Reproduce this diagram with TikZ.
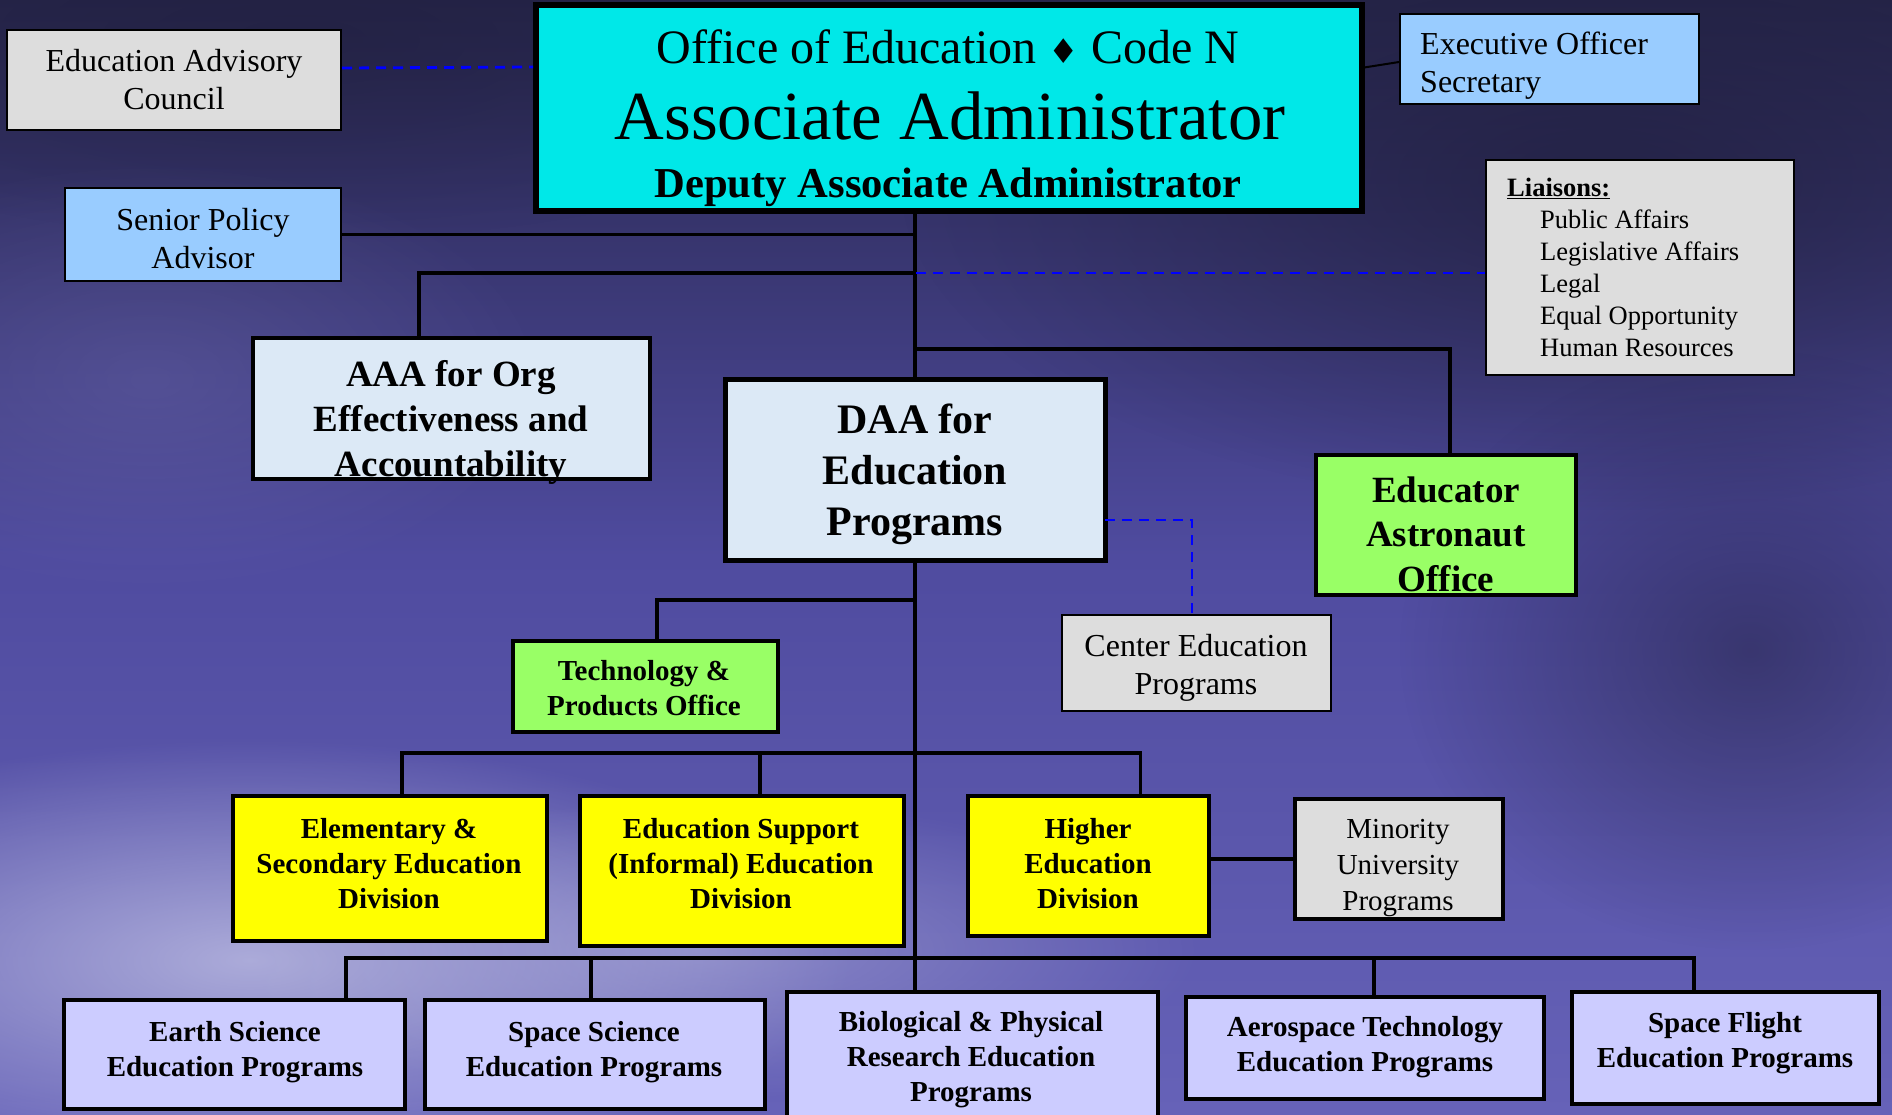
\documentclass[tikz,border=0pt]{standalone}
\usepackage{fontspec}
\setmainfont{Liberation Serif}
\newfontfamily\symfont{DejaVu Sans}
\usetikzlibrary{calc,fadings}
\tikzfading[name=softblob, inner color=transparent!0, outer color=transparent!100]
\definecolor{bgtop}{HTML}{26254A}
\definecolor{bgmid}{HTML}{4F4B9F}
\definecolor{bgbot}{HTML}{6662B8}
\definecolor{cloud}{HTML}{B4B4DE}
\definecolor{darkblob}{HTML}{1F1E3C}
\definecolor{cyanbox}{HTML}{00E8E8}
\definecolor{graybox}{HTML}{DDDDDD}
\definecolor{bluebox}{HTML}{99CCFF}
\definecolor{greenbox}{HTML}{99FF66}
\definecolor{yellowbox}{HTML}{FFFF00}
\definecolor{lavbox}{HTML}{CCCCFF}
\definecolor{marble}{HTML}{DCE9F6}
\tikzset{
  box/.style={draw=black, rectangle, inner sep=0pt},
  thinbox/.style={box, line width=2pt},
  midbox/.style={box, line width=4pt},
  heavybox/.style={box, line width=6pt},
  txt/.style={inner sep=0pt, align=center, text=black},
  plain32/.style={txt, font=\fontsize{32}{38}\selectfont},
  bold29/.style={txt, font=\fontsize{29}{35}\selectfont\bfseries},
  link/.style={line width=3.6pt, draw=black},
  dlink/.style={line width=2.8pt, draw=blue, dash pattern=on 10pt off 7pt},
}
\begin{document}
\begin{tikzpicture}[x=1pt,y=-1pt]
\useasboundingbox (0,0) rectangle (1892,1114);
\begin{scope}
\clip (0,0) rectangle (1892,1114);
% background
\shade[top color=bgtop, bottom color=bgbot, middle color=bgmid] (0,0) rectangle (1892,1114);
\fill[darkblob, path fading=softblob, opacity=0.7] (1600,180) ellipse (700 and 330);
\fill[darkblob, path fading=softblob, opacity=0.5] (1750,650) ellipse (350 and 300);
\fill[darkblob, path fading=softblob, opacity=0.5] (300,40) ellipse (600 and 200);
\fill[cloud, path fading=softblob, opacity=0.9] (250,960) ellipse (600 and 220);
\fill[cloud, path fading=softblob, opacity=0.5] (700,950) ellipse (500 and 150);
\fill[bgmid!80!white, path fading=softblob, opacity=0.35] (150,380) ellipse (400 and 220);

% boxes
\node[thinbox, fill=graybox, minimum width=334pt, minimum height=100pt] (council) at (174,80) {};
\node[heavybox, fill=cyanbox, minimum width=826pt, minimum height=206pt] (top) at (949,108) {};
\node[thinbox, fill=bluebox, minimum width=299pt, minimum height=90pt] (exec) at (1549.5,59) {};
\node[thinbox, fill=bluebox, minimum width=276pt, minimum height=93pt] (senior) at (203,234.5) {};
\node[thinbox, fill=graybox, minimum width=308pt, minimum height=215pt] (liaisons) at (1640,267.5) {};
\node[midbox, fill=marble, minimum width=397pt, minimum height=141pt] (aaa) at (451.5,408.5) {};
\node[box, line width=5pt, fill=marble, minimum width=380pt, minimum height=181pt] (daa) at (915,469.5) {};
\node[midbox, fill=greenbox, minimum width=260pt, minimum height=140pt] (educ) at (1446,525) {};
\node[thinbox, fill=graybox, minimum width=269pt, minimum height=96pt] (center) at (1196.5,663) {};
\node[midbox, fill=greenbox, minimum width=265pt, minimum height=91pt] (tech) at (645.5,686.5) {};
\node[midbox, fill=yellowbox, minimum width=314pt, minimum height=145pt] (elem) at (390,868.5) {};
\node[midbox, fill=yellowbox, minimum width=324pt, minimum height=150pt] (edsup) at (742,871) {};
\node[midbox, fill=yellowbox, minimum width=241pt, minimum height=140pt] (higher) at (1088.5,866) {};
\node[midbox, fill=graybox, minimum width=208pt, minimum height=120pt] (minority) at (1399,859) {};
\node[midbox, fill=lavbox, minimum width=341pt, minimum height=109pt] (earth) at (234.5,1054.5) {};
\node[midbox, fill=lavbox, minimum width=340pt, minimum height=109pt] (spacesci) at (595,1054.5) {};
\node[midbox, fill=lavbox, minimum width=371pt, minimum height=140pt] (bio) at (972.5,1062) {};
\node[midbox, fill=lavbox, minimum width=358pt, minimum height=102pt] (aero) at (1365,1048) {};
\node[midbox, fill=lavbox, minimum width=307pt, minimum height=112pt] (flight) at (1725.5,1048) {};

% texts
\node[plain32] (tcouncil) at (174,79.5) {Education Advisory\\Council};
\node[txt, anchor=base, font=\fontsize{48}{48}\selectfont] (ttop1) at (948,63) {Office of Education {\symfont\fontsize{34}{34}\selectfont ♦} Code N};
\node[txt, anchor=base, font=\fontsize{68.8}{68}\selectfont] (ttop2) at (950,139) {Associate Administrator};
\node[txt, anchor=base, font=\fontsize{42.6}{42}\selectfont\bfseries] (ttop3) at (948,197) {Deputy Associate Administrator};
\node[plain32, align=left, anchor=west] (texec) at (1420,66) {Executive Officer\\Secretary};
\node[plain32] (tsenior) at (203,239) {Senior Policy\\Advisor};
\node[txt, align=left, anchor=north west, font=\fontsize{26.5}{32}\selectfont] (tliaisons) at (1507,177.5)
  {\textbf{\underline{Liaisons:}}\\
   \hspace*{33pt}Public Affairs\\
   \hspace*{33pt}Legislative Affairs\\
   \hspace*{33pt}Legal\\
   \hspace*{33pt}Equal Opportunity\\
   \hspace*{33pt}Human Resources};
\node[txt, font=\fontsize{37}{45}\selectfont\bfseries] (taaa) at (451,422) {AAA for Org\\Effectiveness and\\Accountability};
\node[txt, font=\fontsize{42}{51}\selectfont\bfseries] (tdaa) at (915,474) {DAA for\\Education\\Programs};
\node[txt, font=\fontsize{37}{44.5}\selectfont\bfseries] (teduc) at (1446,534) {Educator\\Astronaut\\Office};
\node[plain32] (tcenter) at (1196,668) {Center Education\\Programs};
\node[bold29] (ttech) at (644,688.5) {Technology \&\\Products Office};
\node[bold29] (telem) at (389,863.5) {Elementary \&\\Secondary Education\\Division};
\node[bold29] (tedsup) at (741,863.5) {Education Support\\(Informal) Education\\Division};
\node[bold29] (thigher) at (1088,863.5) {Higher\\Education\\Division};
\node[txt, font=\fontsize{29}{36}\selectfont] (tminority) at (1398,868) {Minority\\University\\Programs};
\node[bold29] (tearth) at (235,1052) {Earth Science\\Education Programs};
\node[bold29] (tspacesci) at (594,1052) {Space Science\\Education Programs};
\node[bold29] (tbio) at (971,1060) {Biological \& Physical\\Research Education\\Programs};
\node[bold29] (taero) at (1365,1047) {Aerospace Technology\\Education Programs};
\node[bold29] (tflight) at (1725,1043) {Space Flight\\Education Programs};

% junction coordinates
\coordinate (jA) at (916,273);
\coordinate (jB) at (916,349);
\coordinate (jC) at (916,600);
\coordinate (jF) at (1105,520);

% connectors
\draw[dlink] ($(council.north east)+(0,39)$) -- ($(top.north west)+(0,65)$);
\draw[link, line width=2pt] ($(top.north east)+(-4,66)$) -- ($(exec.north west)+(0,49)$);
\draw[link, line width=4pt] (top.south -| daa.north) -- (daa.north);
\draw[link, line width=3pt] (senior.east) -- (senior.east -| daa.north);
\draw[link] ($(aaa.north west)+(168,0)$) |- (jA);
\draw[dlink] (jA) -- (liaisons.west |- jA);
\draw[link] (jB) -| ($(educ.north)+(4,0)$);
\draw[dlink] (jF) -| (center.north -| 1192,0);
\draw[link, line width=4pt] (daa.south) -- (bio.north -| daa.south);
\draw[link] (jC) -| ($(tech.north)+(11.5,0)$);
\draw[link] ($(elem.north)+(12,0)$) |- ($(higher.north)+(52,-41)$) -- ($(higher.north)+(52,0)$);
\draw[link] ($(edsup.north)+(18,0)$) -- ++(0,-41);
\draw[link, line width=4pt] (higher.east |- minority.west) -- (minority.west);
\draw[link] ($(earth.north)+(111.5,0)$) |- ($(flight.north)+(-31.5,-32)$) -- ($(flight.north)+(-31.5,0)$);
\draw[link] ($(spacesci.north)+(-4,0)$) -- ++(0,-40);
\draw[link] ($(aero.north)+(9,0)$) -- ++(0,-37);
\end{scope}
\end{tikzpicture}
\end{document}
